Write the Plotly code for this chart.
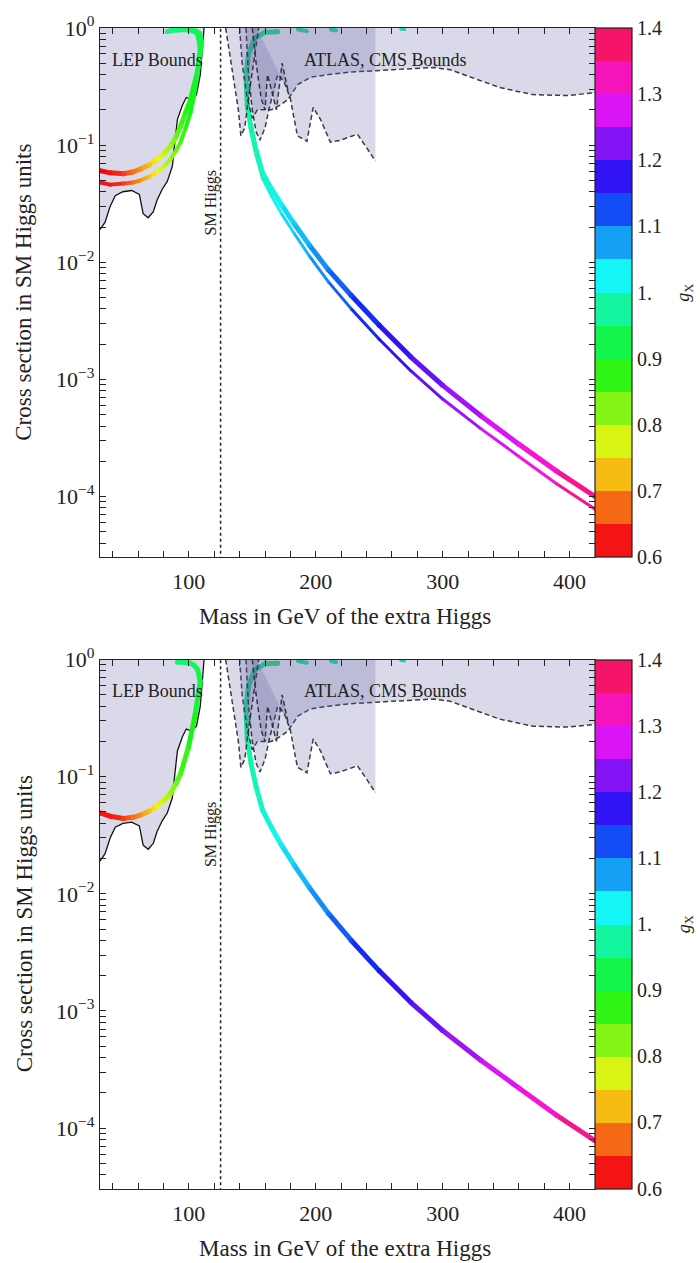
import colorsys
import plotly.graph_objects as go

# ---------------- data ----------------
# LEP exclusion limit (solid black boundary)
lep_mass = [30, 34, 38, 42, 48, 55, 61, 64, 68, 72, 75, 79, 83, 87, 89, 91, 95, 98, 102, 106, 109, 110, 112]
lep_xsec = [0.019, 0.022, 0.030, 0.037, 0.040, 0.041, 0.038, 0.026, 0.024, 0.027, 0.034, 0.042, 0.049, 0.066, 0.106, 0.166, 0.22, 0.255, 0.245, 0.27, 0.40, 0.54, 1.0]

# ATLAS / CMS exclusion regions (dashed lower boundaries)
atlas_wide_mass = [140, 142, 146, 150, 154, 159, 165, 172, 178, 186, 196, 210, 227, 260, 293, 306, 325, 345, 371, 398, 420]
atlas_wide_xsec = [1.0, 0.5, 0.25, 0.17, 0.2, 0.2, 0.2, 0.22, 0.245, 0.33, 0.38, 0.40, 0.42, 0.44, 0.46, 0.44, 0.37, 0.31, 0.27, 0.265, 0.28]

cms_mass = [145, 147, 150, 153, 156, 160, 163, 167, 170, 175, 180, 182, 185.6, 193, 198, 203.7, 211.5, 219.4, 232.8, 240.7, 247]
cms_xsec = [1.0, 0.4, 0.2, 0.13, 0.11, 0.14, 0.2, 0.3, 0.4, 0.35, 0.25, 0.19, 0.12, 0.108, 0.21, 0.166, 0.106, 0.11, 0.124, 0.093, 0.073]

low1_mass = [129, 135, 139, 141, 144, 148, 152, 155]
low1_xsec = [1.0, 0.38, 0.2, 0.12, 0.14, 0.3, 0.6, 1.0]

low2_mass = [150, 153, 157, 160, 162, 165, 169, 173.5, 178.5]
low2_xsec = [1.0, 0.5, 0.25, 0.2, 0.4, 0.3, 0.2, 0.5, 0.28]

sm_higgs_mass = 125

# gX-coloured model curves, upper panel (two parameter sets)
top_left_a_mass = [30, 38, 48.6, 56, 62, 69, 75.3, 81, 85.6, 90, 93.5, 97.5, 101.3, 104, 106.6, 109, 108, 106.6, 104, 101.3, 96, 91, 86, 83]
top_left_a_xsec = [0.0605, 0.058, 0.057, 0.059, 0.0626, 0.068, 0.076, 0.086, 0.098, 0.118, 0.145, 0.19, 0.245, 0.32, 0.415, 0.65, 0.8, 0.9, 0.94, 0.96, 0.965, 0.96, 0.95, 0.93]
top_left_a_gx = [0.60, 0.62, 0.65, 0.68, 0.70, 0.73, 0.76, 0.79, 0.81, 0.84, 0.86, 0.88, 0.89, 0.90, 0.91, 0.92, 0.925, 0.93, 0.935, 0.94, 0.945, 0.95, 0.955, 0.96]

top_left_b_mass = [30, 38, 48.9, 56, 62, 69, 75, 81, 85.6, 90, 93.5, 97.5, 101.3, 104, 106.6, 110.5, 109, 106, 101, 95, 89]
top_left_b_xsec = [0.048, 0.046, 0.047, 0.048, 0.050, 0.054, 0.059, 0.067, 0.076, 0.09, 0.106, 0.14, 0.19, 0.26, 0.387, 0.745, 0.9, 0.95, 0.97, 0.975, 0.97]
top_left_b_gx = [0.60, 0.62, 0.65, 0.68, 0.70, 0.73, 0.76, 0.79, 0.81, 0.84, 0.86, 0.88, 0.89, 0.90, 0.91, 0.92, 0.93, 0.935, 0.94, 0.945, 0.95]

top_right_a_mass = [170, 160, 152, 147, 145, 146, 149, 153, 158, 165, 173, 183, 195, 210, 228, 250, 275, 300, 330, 360, 390, 420]
top_right_a_xsec = [0.93, 0.92, 0.82, 0.6, 0.38, 0.22, 0.14, 0.09, 0.058, 0.0425, 0.031, 0.0213, 0.014, 0.0086, 0.0052, 0.0029, 0.00155, 0.00089, 0.00049, 0.00028, 0.000164, 0.0001]
top_right_a_gx = [0.95, 0.955, 0.96, 0.965, 0.97, 0.975, 0.98, 0.99, 1.0, 1.01, 1.03, 1.05, 1.07, 1.10, 1.13, 1.16, 1.19, 1.22, 1.26, 1.29, 1.33, 1.37]

top_right_b_mass = [170, 160, 152, 147, 145, 146, 149, 153, 158, 165, 173, 183, 195, 210, 228, 250, 275, 300, 330, 360, 390, 420]
top_right_b_xsec = [0.93, 0.92, 0.82, 0.6, 0.38, 0.21, 0.13, 0.082, 0.052, 0.037, 0.026, 0.0176, 0.0113, 0.0068, 0.0040, 0.0022, 0.00118, 0.00068, 0.00038, 0.00022, 0.000128, 0.000078]
top_right_b_gx = [0.95, 0.955, 0.96, 0.965, 0.97, 0.975, 0.98, 0.99, 1.0, 1.01, 1.03, 1.05, 1.07, 1.10, 1.13, 1.16, 1.19, 1.22, 1.26, 1.29, 1.33, 1.37]

# short pieces of the curves touching the top edge
edge_pieces_mass = [[186, 193], [212, 216], [267, 270]]
edge_pieces_xsec = [[0.97, 0.94], [0.97, 0.95], [0.98, 0.97]]
edge_pieces_gx = [[0.96, 0.97], [0.97, 0.98], [0.98, 0.98]]

# gX-coloured model curve, lower panel
bot_left_mass = [30, 38, 48.6, 56, 62, 69, 75, 81, 85.6, 90, 93.5, 99.8, 105, 109, 107, 104, 101, 96, 91]
bot_left_xsec = [0.049, 0.046, 0.044, 0.045, 0.047, 0.051, 0.056, 0.064, 0.072, 0.088, 0.106, 0.18, 0.34, 0.65, 0.82, 0.9, 0.93, 0.95, 0.95]
bot_left_gx = [0.60, 0.62, 0.65, 0.68, 0.70, 0.73, 0.76, 0.79, 0.81, 0.84, 0.86, 0.88, 0.90, 0.92, 0.93, 0.935, 0.94, 0.945, 0.95]

bot_right_mass = top_right_b_mass
bot_right_xsec = top_right_b_xsec
bot_right_gx = top_right_b_gx

# colour bar
gx_min, gx_max, gx_step = 0.6, 1.4, 0.05
cbar_tickvals = [0.6, 0.7, 0.8, 0.9, 1.0, 1.1, 1.2, 1.3, 1.4]
cbar_ticktext = ["0.6", "0.7", "0.8", "0.9", "1.", "1.1", "1.2", "1.3", "1.4"]

x_tickvals = list(range(40, 421, 20))
x_labels = {100: "100", 200: "200", 300: "300", 400: "400"}

# ---------------- layout geometry ----------------
W, H = 700, 1263
ML, MR, MT, MB = 100, 105, 18, 74
PW, PH = W - ML - MR, H - MT - MB
PANEL_TOP, PANEL_BOTTOM = 18, 552
PANEL_SHIFT = 637
SERIF = "Liberation Serif, Times New Roman, serif"


def paper_x(px):
    return (px - ML) / PW


def paper_y(py):
    return (H - MB - py) / PH


top_dom = [paper_y(PANEL_BOTTOM), 1.0]
bot_dom = [0.0, paper_y(PANEL_TOP + PANEL_SHIFT)]


def gx_color(g):
    hue = min(max((g - 0.625) * 450.0, 0.0), 337.5) / 360.0
    r, gg, b = colorsys.hsv_to_rgb(hue, 0.92, 0.96)
    return "rgb(%d,%d,%d)" % (round(r * 255), round(gg * 255), round(b * 255))


n_bands = round((gx_max - gx_min) / gx_step)
band_scale = []
for k in range(n_bands):
    c = gx_color(gx_min + (k + 0.5) * gx_step)
    band_scale.append([k / n_bands, c])
    band_scale.append([(k + 1) / n_bands, c])

fig = go.Figure()


def add_curve(mass, xsec, gx, width, xa, ya):
    for i in range(len(mass) - 1):
        fig.add_trace(go.Scatter(
            x=[mass[i], mass[i + 1]], y=[xsec[i], xsec[i + 1]], mode="lines",
            line=dict(color=gx_color(0.5 * (gx[i] + gx[i + 1])), width=width),
            xaxis=xa, yaxis=ya, hoverinfo="skip", showlegend=False))
    fig.add_trace(go.Scatter(
        x=mass, y=xsec, mode="markers",
        marker=dict(color=[gx_color(g) for g in gx], size=width, line=dict(width=0)),
        xaxis=xa, yaxis=ya, hoverinfo="skip", showlegend=False))


def add_region(mass, xsec, xa, ya, close_right=False):
    px = list(mass)
    py = list(xsec)
    if close_right:
        px += [mass[-1], mass[-1]]
        py += [1.2, 1.2]
    px += [mass[0]]
    py += [1.2]
    fig.add_trace(go.Scatter(
        x=px, y=py, mode="lines", fill="toself", fillcolor="rgba(95,95,165,0.24)",
        line=dict(width=0), xaxis=xa, yaxis=ya, hoverinfo="skip", showlegend=False))
    fig.add_trace(go.Scatter(
        x=mass, y=xsec, mode="lines",
        line=dict(color="rgba(40,40,50,0.9)", width=1.5, dash="5px,3px"),
        xaxis=xa, yaxis=ya, hoverinfo="skip", showlegend=False))


def add_text(px, py, text, size, angle=0, anchor="center"):
    fig.add_annotation(x=paper_x(px), y=paper_y(py), xref="paper", yref="paper",
                       text=text, showarrow=False, textangle=angle,
                       xanchor=anchor, yanchor="middle",
                       font=dict(family=SERIF, size=size, color="#222"))


edge_curves = list(zip(edge_pieces_mass, edge_pieces_xsec, edge_pieces_gx, [4, 4, 3]))
panels = [
    ("x", "y", [
        (top_left_a_mass, top_left_a_xsec, top_left_a_gx, 5),
        (top_left_b_mass, top_left_b_xsec, top_left_b_gx, 4),
        (top_right_a_mass, top_right_a_xsec, top_right_a_gx, 5),
        (top_right_b_mass, top_right_b_xsec, top_right_b_gx, 3),
    ] + edge_curves, top_dom, 0),
    ("x2", "y2", [
        (bot_left_mass, bot_left_xsec, bot_left_gx, 5),
        (bot_right_mass, bot_right_xsec, bot_right_gx, 5),
    ] + edge_curves, bot_dom, PANEL_SHIFT),
]

for xa, ya, curves, dom, shift in panels:
    # LEP excluded area
    fig.add_trace(go.Scatter(
        x=lep_mass + [lep_mass[-1], lep_mass[0], lep_mass[0]],
        y=lep_xsec + [1.2, 1.2, lep_xsec[0]],
        mode="lines", fill="toself", fillcolor="rgb(217,217,234)", line=dict(width=0),
        xaxis=xa, yaxis=ya, hoverinfo="skip", showlegend=False))
    fig.add_trace(go.Scatter(
        x=lep_mass, y=lep_xsec, mode="lines", line=dict(color="#111", width=1.3),
        xaxis=xa, yaxis=ya, hoverinfo="skip", showlegend=False))
    for m, s, g, w in curves:
        add_curve(m, s, g, w, xa, ya)
    add_region(atlas_wide_mass, atlas_wide_xsec, xa, ya, close_right=True)
    add_region(cms_mass, cms_xsec, xa, ya, close_right=True)
    add_region(low1_mass, low1_xsec, xa, ya)
    add_region(low2_mass, low2_xsec, xa, ya)
    # SM Higgs mass marker
    fig.add_trace(go.Scatter(
        x=[sm_higgs_mass, sm_higgs_mass], y=[1e-5, 1.2], mode="lines",
        line=dict(color="#222", width=1.5, dash="dot"),
        xaxis=xa, yaxis=ya, hoverinfo="skip", showlegend=False))
    # discrete gX colour bar
    fig.add_trace(go.Scatter(
        x=[35], y=[1e-7], mode="markers", xaxis=xa, yaxis=ya,
        marker=dict(color=[1.0], cmin=gx_min, cmax=gx_max, colorscale=band_scale, size=1,
                    showscale=True,
                    colorbar=dict(x=1.0, xanchor="left", y=dom[1], yanchor="top",
                                  len=dom[1] - dom[0], lenmode="fraction",
                                  thickness=37, thicknessmode="pixels", xpad=0, ypad=0,
                                  outlinewidth=1.2, outlinecolor="#222",
                                  tickvals=cbar_tickvals, ticktext=cbar_ticktext,
                                  ticks="", tickfont=dict(family=SERIF, size=20, color="#222"))),
        hoverinfo="skip", showlegend=False))
    # text labels
    add_text(110, 50 + shift, "LEP Bounds", 18, anchor="left")
    add_text(302, 50 + shift, "ATLAS, CMS Bounds", 18, anchor="left")
    add_text(211, 195 + shift, "SM Higgs", 16, angle=-90)
    add_text(685, 285 + shift, "<i>g</i><sub>X</sub>", 18, angle=-90)
    add_text(345, 612 + shift, "Mass in GeV of the extra Higgs", 23)
    add_text(24, 285 + shift, "Cross section in SM Higgs units", 23, angle=-90)

y_tickvals, y_ticktext = [], []
for e in range(-5, 1):
    for k in range(1, 10):
        v = k * 10.0 ** e
        if v > 1.0001:
            continue
        y_tickvals.append(v)
        y_ticktext.append("10<sup>%s</sup>" % (str(e).replace("-", "\u2212")) if k == 1 else "")

axis_common = dict(showgrid=False, zeroline=False, showline=True, linecolor="#222", linewidth=1.3,
                   mirror="ticks", ticks="inside", ticklen=6, tickwidth=1, tickcolor="#222",
                   tickfont=dict(family=SERIF, size=22, color="#222"))
xaxis_cfg = dict(range=[30, 420], tickvals=x_tickvals, ticklabelstandoff=4,
                 ticktext=[x_labels.get(v, "") for v in x_tickvals], **axis_common)
yaxis_cfg = dict(type="log", range=[-4.52, 0], tickvals=y_tickvals, ticktext=y_ticktext,
                 **axis_common)

fig.update_layout(
    width=W, height=H, margin=dict(l=ML, r=MR, t=MT, b=MB),
    paper_bgcolor="white", plot_bgcolor="white", showlegend=False,
    xaxis=dict(domain=[0, 1], anchor="y", **xaxis_cfg),
    yaxis=dict(domain=top_dom, anchor="x", **yaxis_cfg),
    xaxis2=dict(domain=[0, 1], anchor="y2", **xaxis_cfg),
    yaxis2=dict(domain=bot_dom, anchor="x2", **yaxis_cfg),
)

fig.write_html("out.html")
